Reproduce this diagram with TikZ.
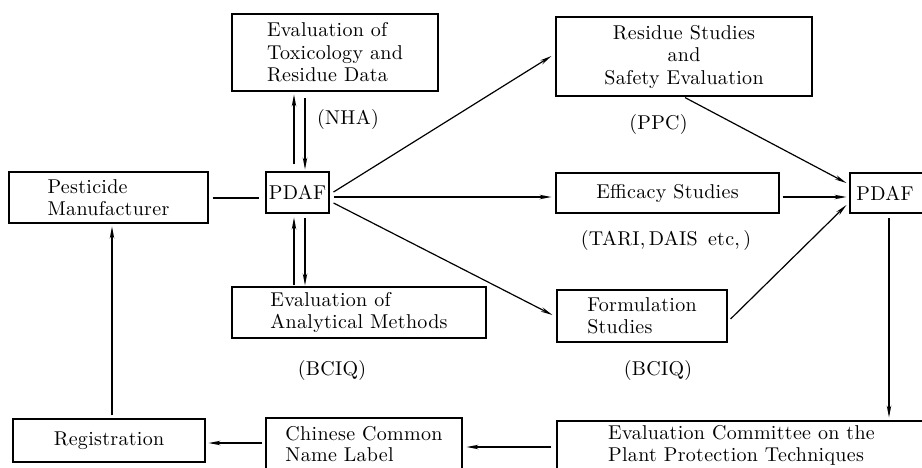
\documentclass[tikz,border=0pt]{standalone}
\usepackage{fontspec}
\newfontfamily\diagfont{lmroman10-regular.otf}[LetterSpace=1.5]
\usetikzlibrary{arrows.meta,calc}
\tikzset{
  box/.style={draw, line width=1.1pt, inner sep=0pt, align=left,
    font=\diagfont\fontsize{20}{22.5}\selectfont},
  lab/.style={inner sep=0pt, font=\diagfont\fontsize{20}{22.5}\selectfont},
  conn/.style={line width=1.2pt},
  arr/.style={conn, -{Stealth[length=12pt,width=4.5pt]}},
}
\begin{document}
\begin{tikzpicture}[x=1pt,y=-1pt]
\useasboundingbox (0,0) rectangle (922,467);
\clip (0,0) rectangle (922,467);
% boxes
\node[box, minimum width=206pt, minimum height=77pt] (tox) at (335,52.5) {Evaluation of\\Toxicology and\\Residue Data};
\node[box, minimum width=199pt, minimum height=51pt] (pest) at (108.5,197.5) {Pesticide\\Manufacturer};
\node[box, minimum width=63pt, minimum height=41pt] (pdafL) at (297.5,192.5) {PDAF};
\node[box, minimum width=254pt, minimum height=51pt] (anal) at (359,312.5) {Evaluation of\\Analytical Methods};
\node[box, align=center, minimum width=256pt, minimum height=79pt] (resid) at (684,56.5) {Residue Studies\\and\\Safety Evaluation};
\node[box, minimum width=223pt, minimum height=40pt] (eff) at (667.5,193) {Efficacy Studies};
\node[box, minimum width=170pt, minimum height=52pt] (form) at (642,316) {Formulation\\Studies};
\node[box, minimum width=78pt, minimum height=40pt] (pdafR) at (889,193) {PDAF\hspace*{8pt}};
\node[box, minimum width=192pt, minimum height=43pt] (reg) at (109,440.5) {Registration};
\node[box, minimum width=196pt, minimum height=52pt, font=\diagfont\fontsize{20}{21.5}\selectfont] (chin) at (364,444) {Chinese Common\\Name Label};
\node[box, minimum width=369pt, minimum height=49pt, font=\diagfont\fontsize{20}{21.5}\selectfont] (comm) at (741.5,445.5) {Evaluation Committee on the\\Plant Protection Techniques};
% labels
\node[lab] (nha) at (348,119) {(NHA)};
\node[lab] (ppc) at (658.5,124) {(PPC)};
\node[lab] (tari) at (666,240) {(TARI,\,DAIS\, etc,\,)};
\node[lab] (bciq1) at (332,370) {(BCIQ)};
\node[lab] (bciq2) at (658,370) {(BCIQ)};
% connectors
\draw[conn] ($(pest.east)+(4,0.5)$) -- ($(pdafL.west)+(-6,5.5)$);
\draw[arr] ($(pdafL.north)+(-3.5,-7)$) -- ($(tox.south)+(-41,3)$);
\draw[arr] ($(tox.south)+(-30,6)$) -- ($(pdafL.north)+(7.5,-2)$);
\draw[arr] ($(anal.north)+(-65,-1)$) -- ($(pdafL.south)+(-3.5,4)$);
\draw[arr] ($(pdafL.south)+(7.5,4)$) -- ($(anal.north)+(-54,-1)$);
\draw[arr] ($(pdafL.east)+(4,-0.5)$) -- ($(resid.west)+(-4,-0.5)$);
\draw[arr] ($(pdafL.east)+(4,4.5)$) -- ($(eff.west)+(-4,4)$);
\draw[arr] ($(pdafL.east)+(4,10.5)$) -- ($(form.west)+(-4,-1)$);
\draw[arr] ($(resid.south)+(1,1)$) -- ($(pdafR.west)+(-3,-10)$);
\draw[arr] ($(eff.east)+(3,4)$) -- ($(pdafR.west)+(-3,4)$);
\draw[arr] ($(form.east)+(3,3)$) -- ($(pdafR.west)+(-3,12)$);
\draw[arr] ($(pdafR.south)+(0,4)$) -- ($(comm.north)+(147.5,-3)$);
\draw[arr] ($(comm.west)+(-5,1.5)$) -- ($(chin.east)+(4,3)$);
\draw[arr] ($(chin.west)+(-3,-1)$) -- ($(reg.east)+(3,2.5)$);
\draw[arr] ($(reg.north)+(3,-3)$) -- ($(pest.south)+(3.5,3)$);
\end{tikzpicture}
\end{document}
